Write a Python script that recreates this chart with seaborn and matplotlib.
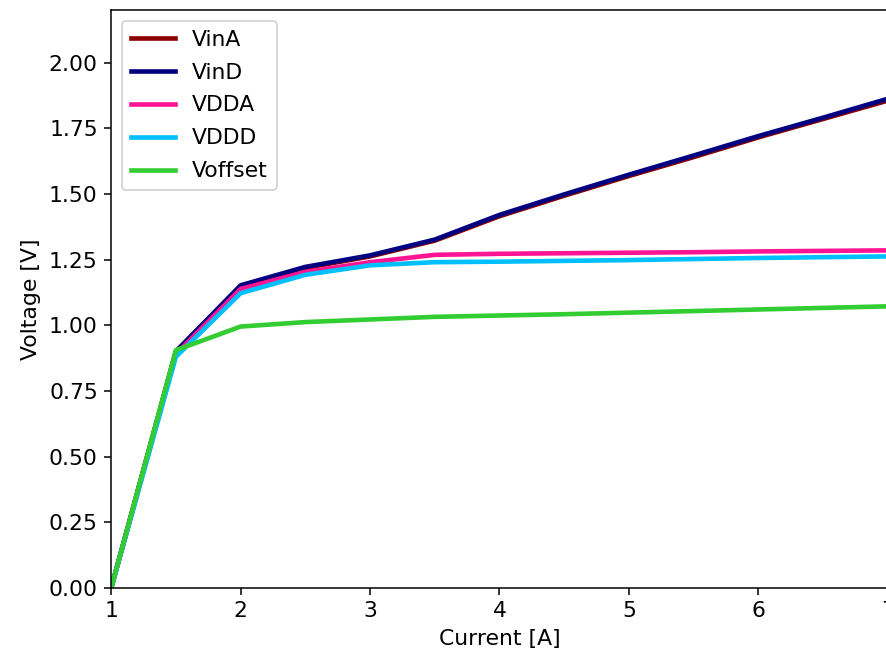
import numpy as np
import pandas as pd
import matplotlib.pyplot as plt
import seaborn as sns

# values
current = [1.0, 1.5, 2.0, 2.5, 3.0, 3.5, 4.0, 4.5, 5.0, 5.5, 6.0, 6.5, 7.0]
vin_a = [0.0, 0.90, 1.148, 1.218, 1.262, 1.322, 1.415, 1.493, 1.568, 1.640, 1.715, 1.785, 1.855]
vin_d = [0.0, 0.90, 1.152, 1.222, 1.266, 1.326, 1.420, 1.498, 1.573, 1.646, 1.720, 1.790, 1.862]
vdda = [0.0, 0.89, 1.138, 1.203, 1.240, 1.268, 1.272, 1.274, 1.276, 1.278, 1.281, 1.283, 1.285]
vddd = [0.0, 0.88, 1.122, 1.192, 1.228, 1.240, 1.242, 1.245, 1.248, 1.252, 1.256, 1.259, 1.262]
voffset = [0.0, 0.905, 0.995, 1.012, 1.022, 1.032, 1.037, 1.042, 1.048, 1.054, 1.060, 1.066, 1.072]

series_names = ["VinA", "VinD", "VDDA", "VDDD", "Voffset"]
colors = ["#8B0000", "#000080", "#FF1493", "#00BFFF", "#32CD32"]

df = pd.DataFrame({
    "Current": current * 5,
    "Voltage": vin_a + vin_d + vdda + vddd + voffset,
    "Series": np.repeat(series_names, len(current)),
})

plt.rcParams["font.size"] = 11.4

dpi = 138
fig = plt.figure(figsize=(886 / dpi, 656 / dpi), dpi=dpi)
# axes run past the right edge, like the cropped original
ax = fig.add_axes([0.1255, 0.1037, 0.8765, 0.8811])

sns.lineplot(data=df, x="Current", y="Voltage", hue="Series",
             hue_order=series_names, palette=colors, linewidth=2.4, ax=ax)

ax.set_xlim(1, 7)
ax.set_ylim(0, 2.2)
ax.set_yticks(np.arange(0, 2.01, 0.25))
ax.set_xlabel("Current [A]")
ax.set_ylabel("Voltage [V]")
ax.legend(loc="upper left", title=None, labelspacing=0.59)

fig.savefig("out.png", dpi=dpi)
